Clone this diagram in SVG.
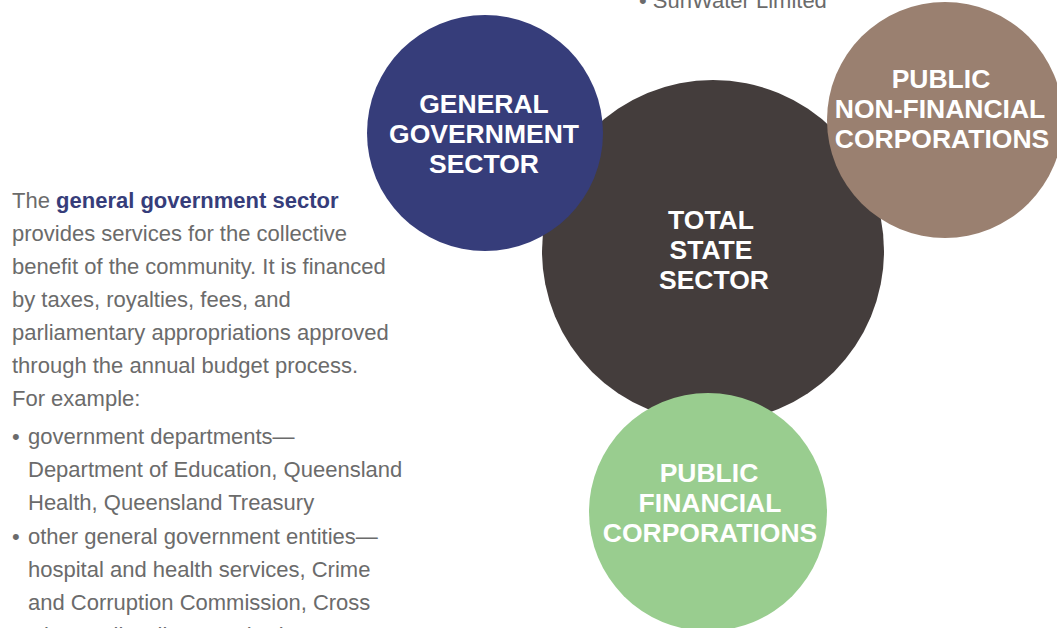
<svg xmlns="http://www.w3.org/2000/svg" width="1057" height="628" viewBox="0 0 1057 628">
<style>
.lbl{font-family:"Liberation Sans",Arial,sans-serif;font-weight:bold;font-size:26.5px;fill:#ffffff;text-anchor:middle}
.body{font-family:"Liberation Sans",Arial,sans-serif;font-size:22px;fill:#6b6b6b}
.em{font-weight:bold;fill:#363d7a}
</style>
<rect width="1057" height="628" fill="#ffffff"/>
<g id="total-state-sector">
<circle cx="713" cy="251" r="171" fill="#443d3c"/>
<text class="lbl" x="711" y="229">TOTAL</text>
<text class="lbl" x="711" y="259">STATE</text>
<text class="lbl" x="714" y="289">SECTOR</text>
</g>
<g id="general-government-sector">
<circle cx="485" cy="133" r="118" fill="#363d7a"/>
<text class="lbl" x="484" y="113">GENERAL</text>
<text class="lbl" x="484" y="143">GOVERNMENT</text>
<text class="lbl" x="484" y="173">SECTOR</text>
</g>
<g id="public-non-financial-corporations">
<circle cx="945" cy="120" r="118" fill="#9a8070"/>
<text class="lbl" x="941" y="88">PUBLIC</text>
<text class="lbl" x="940" y="118">NON-FINANCIAL</text>
<text class="lbl" x="942" y="148">CORPORATIONS</text>
</g>
<g id="public-financial-corporations">
<circle cx="708" cy="512" r="119" fill="#99cd8f"/>
<text class="lbl" x="709" y="482">PUBLIC</text>
<text class="lbl" x="710" y="512">FINANCIAL</text>
<text class="lbl" x="710" y="542">CORPORATIONS</text>
</g>
<g id="top-note">
<text class="body" x="639" y="8">• SunWater Limited</text>
</g>
<g id="description">
<text class="body" x="12" y="208">The <tspan class="em">general government sector</tspan></text>
<text class="body" x="12" y="241">provides services for the collective</text>
<text class="body" x="12" y="274">benefit of the community. It is financed</text>
<text class="body" x="12" y="307">by taxes, royalties, fees, and</text>
<text class="body" x="12" y="340">parliamentary appropriations approved</text>
<text class="body" x="12" y="373">through the annual budget process.</text>
<text class="body" x="12" y="406">For example:</text>
<text class="body" x="12" y="444">•</text>
<text class="body" x="28" y="444">government departments—</text>
<text class="body" x="28" y="477">Department of Education, Queensland</text>
<text class="body" x="28" y="510">Health, Queensland Treasury</text>
<text class="body" x="12" y="544">•</text>
<text class="body" x="28" y="544">other general government entities—</text>
<text class="body" x="28" y="577">hospital and health services, Crime</text>
<text class="body" x="28" y="610">and Corruption Commission, Cross</text>
<text class="body" x="28" y="643">River Rail Delivery Authority</text>
</g>
</svg>
